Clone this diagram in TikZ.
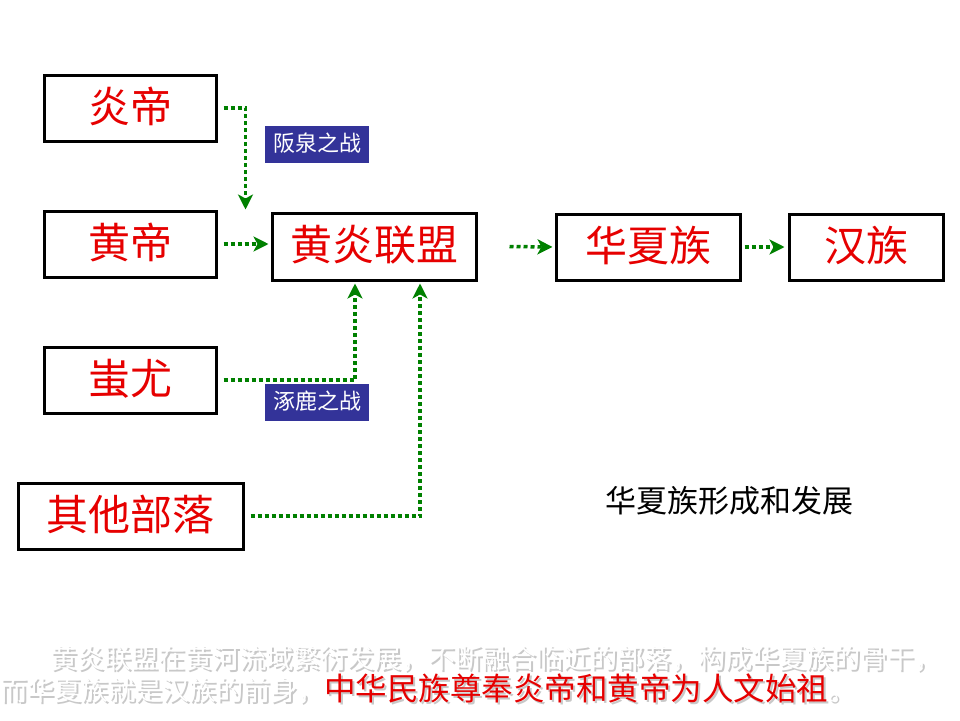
\documentclass[tikz,border=0pt]{standalone}
\usepackage{fontspec}
\setmainfont{Noto Sans CJK SC}
\usetikzlibrary{arrows.meta,calc}
\definecolor{tgreen}{RGB}{0,128,0}
\definecolor{tred}{RGB}{230,0,0}
\definecolor{tnavy}{RGB}{51,51,153}
\definecolor{tshadow}{RGB}{200,200,200}
\begin{document}
\begin{tikzpicture}[x=1pt,y=-1pt,
 box/.style={draw=black,line width=3pt,text=tred,font=\fontsize{42}{44}\selectfont,inner sep=0pt,text height=35pt,text depth=7pt,minimum height=66pt},
 conn/.style={draw=tgreen,line width=3.5pt,dash pattern=on 4pt off 3pt,-{Stealth[length=15pt,width=15pt,inset=4pt]}},
 tag/.style={fill=tnavy,text=white,font=\fontsize{22}{22}\selectfont,minimum width=104pt,minimum height=37pt,inner sep=0pt,text height=18.5pt,text depth=3.5pt},
 bottom/.style={anchor=base west,inner sep=0pt,font=\fontsize{27}{27}\selectfont}]
\useasboundingbox[fill=white] (0,0) rectangle (960,720);
% boxes
\node[box,minimum width=172pt] (yan) at (130,108) {炎帝};
\node[box,minimum width=172pt] (huang) at (130,244) {黄帝};
\node[box,minimum width=172pt] (chi) at (130,380) {蚩尤};
\node[box,minimum width=225pt] (qita) at (130.5,516) {其他部落};
\node[box,minimum width=204pt,minimum height=67pt] (lm) at (374,246.5) {黄炎联盟};
\node[box,minimum width=184pt] (hx) at (648,247) {华夏族};
\node[box,minimum width=154pt] (hz) at (866,247) {汉族};
% tags
\node[tag] (banquan) at (317,144) {阪泉之战};
\node[tag] (zhuolu) at (317,402) {涿鹿之战};
% title
\node[font=\fontsize{31}{31}\selectfont,inner sep=0pt,text height=26pt,text depth=5pt] (title) at (729,502) {华夏族形成和发展};
% connectors
\coordinate (ltop) at ($(lm.north west)+(-25,-2)$);
\coordinate (lbot1) at ($(lm.south)+(-19,2)$);
\coordinate (lbot2) at ($(lm.south)+(46,2)$);
\draw[conn] ([xshift=6pt]yan.east) -| (ltop);
\draw[conn] ([xshift=6pt]huang.east) -- ([xshift=-2pt]lm.west |- huang.east);
\draw[conn] ([xshift=6pt]chi.east) -| (lbot1);
\draw[conn] ([xshift=6pt]qita.east) -| (lbot2);
\draw[conn] ([xshift=32pt]lm.east) -- ([xshift=-2pt]hx.west);
\draw[conn] ([xshift=3pt]hx.east) -- ([xshift=-3pt]hz.west);
% bottom text
\node[bottom,text=tshadow] (l1s) at (52,670) {黄炎联盟在黄河流域繁衍发展，不断融合临近的部落，构成华夏族的骨干，};
\node[bottom,text=white] (l1) at (50,668) {黄炎联盟在黄河流域繁衍发展，不断融合临近的部落，构成华夏族的骨干，};
\node[bottom,text=tshadow] (l2s) at (2,702) {而华夏族就是汉族的前身，{\fontsize{31.5}{32}\selectfont 中华民族尊奉炎帝和黄帝为人文始祖}。};
\node[bottom,text=white] (l2) at (0,700) {而华夏族就是汉族的前身，{\color{tred}\fontsize{31.5}{32}\selectfont 中华民族尊奉炎帝和黄帝为人文始祖}。};
\end{tikzpicture}
\end{document}
